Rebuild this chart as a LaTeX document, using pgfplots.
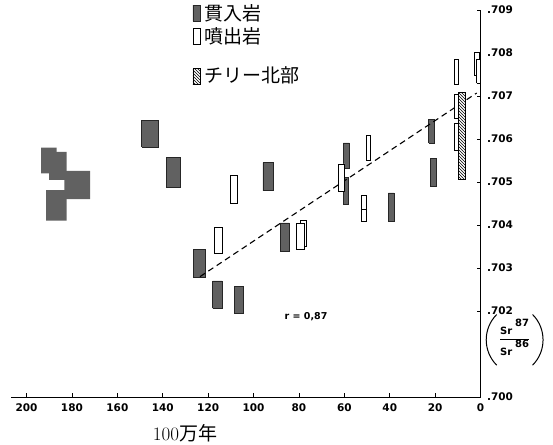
\documentclass[border=0pt]{standalone}
\usepackage{pgfplots}
\pgfplotsset{compat=1.18}
\usetikzlibrary{patterns}
\usepackage{fontspec}
\newfontfamily\tickfont{DejaVu Sans}
\newfontfamily\jp{Noto Sans CJK JP}

% range bar: xfrom xto yfrom yto style
\newcommand{\rng}[5]{\addplot[#5] coordinates {(#1,#3) (#2,#3) (#2,#4) (#1,#4) (#1,#3)};}

\tikzset{
  dark/.style={fill=black!62, draw=black!85, line width=0.5pt},
  blob/.style={fill=black!62, draw=none},
  open/.style={fill=white, draw=black, line width=0.9pt},
  hatch/.style={fill=white, draw=black, line width=0.8pt,
                postaction={pattern=north west lines}},
}

\begin{document}
\begin{tikzpicture}
\begin{axis}[
    scale only axis,
    width=469.9pt, height=387pt,
    x dir=reverse,
    xmin=0, xmax=207,
    ymin=0.700, ymax=0.709,
    axis x line=bottom, axis y line=right,
    axis line style={-, line width=0.9pt},
    tick align=inside, major tick length=4pt,
    tick style={line width=0.8pt, black},
    xtick={0,20,40,60,80,100,120,140,160,180,200},
    xticklabels={0,20,40,60,80,100,120,140,160,180,200},
    ytick={0.700,0.702,0.703,0.704,0.705,0.706,0.707,0.708,0.709},
    yticklabels={.700,.702,.703,.704,.705,.706,.707,.708,.709},
    ticklabel style={font=\tickfont\bfseries\fontsize{10.5}{12}\selectfont},
    x tick label style={yshift=-3pt},
    y tick label style={xshift=3pt},
    clip=false,
]
% left cluster of intrusive ranges
\rng{193.6}{186.7}{0.70520}{0.70580}{blob}
\rng{187.4}{182.3}{0.70506}{0.70570}{blob}
\rng{190.1}{182.3}{0.70505}{0.70524}{blob}
\rng{183.3}{172.0}{0.70460}{0.70526}{blob}
\rng{191.4}{182.3}{0.70410}{0.70481}{blob}

% intrusive rocks
\rng{149.3}{141.9}{0.70582}{0.70644}{dark}
\rng{138.5}{132.4}{0.70488}{0.70557}{dark}
\rng{95.9}{91.5}{0.70480}{0.70545}{dark}
\rng{126.5}{121.4}{0.70278}{0.70343}{dark}
\rng{118.0}{114.0}{0.70206}{0.70270}{dark}
\rng{108.5}{104.5}{0.70196}{0.70258}{dark}
\rng{88.3}{84.2}{0.70340}{0.70405}{dark}
\rng{60.4}{57.8}{0.70532}{0.70591}{dark}
\rng{60.4}{58.1}{0.70449}{0.70510}{dark}
\rng{40.6}{38.1}{0.70408}{0.70475}{dark}
\rng{22.9}{20.5}{0.70591}{0.70646}{dark}
\rng{22.2}{19.6}{0.70491}{0.70555}{dark}

% regression line
\addplot[black, line width=1.1pt, dash pattern=on 6pt off 4pt] coordinates {(123.6,0.70280) (1.7,0.70707)};

% volcanic rocks
\rng{110.3}{107.0}{0.70450}{0.70516}{open}
\rng{117.4}{113.7}{0.70334}{0.70395}{open}
\rng{79.5}{76.9}{0.70350}{0.70410}{open}
\rng{81.0}{77.8}{0.70343}{0.70404}{open}
\rng{62.5}{59.8}{0.70477}{0.70542}{open}
\rng{50.4}{48.4}{0.70550}{0.70609}{open}
\rng{52.6}{50.4}{0.70437}{0.70468}{open}
\rng{52.6}{50.4}{0.70408}{0.70437}{open}
\rng{11.7}{9.8}{0.70727}{0.70785}{open}
\rng{11.7}{9.5}{0.70647}{0.70704}{open}
\rng{11.7}{9.5}{0.70574}{0.70637}{open}
\rng{2.9}{0.5}{0.70747}{0.70802}{open}
\rng{1.8}{0.2}{0.70730}{0.70784}{open}

% northern Chile
\rng{9.9}{6.8}{0.70505}{0.70709}{hatch}

% legend swatches
\rng{126.7}{123.6}{0.708744}{0.709116}{dark}
\rng{126.7}{123.6}{0.708209}{0.708581}{open}
\rng{126.7}{123.6}{0.707279}{0.707651}{hatch}

\node[anchor=west, font=\jp\fontsize{19}{22}\selectfont, inner sep=0pt] at (axis cs:121.8,0.70893) {貫入岩};
\node[anchor=west, font=\jp\fontsize{19}{22}\selectfont, inner sep=0pt] at (axis cs:121.8,0.70840) {噴出岩};
\node[anchor=west, font=\jp\fontsize{19}{22}\selectfont, inner sep=0pt] at (axis cs:121.8,0.70747) {チリー北部};

\node[font=\tickfont\bfseries\fontsize{9.5}{11}\selectfont] at (axis cs:76.9,0.70188) {r = 0,87};

% y axis quantity: Sr87/Sr86 in drawn parentheses
\node[font=\tickfont\bfseries\fontsize{10}{12}\selectfont, inner sep=1pt] (frac) at (axis cs:-15.0,0.70133)
  {$\displaystyle\frac{\hbox{\rule{0pt}{17pt}Sr\hspace{3pt}\raisebox{1.5ex}{87}}}{\hbox{\rule[-6pt]{0pt}{12pt}Sr\hspace{3pt}\raisebox{1.5ex}{86}}}$};
\draw[line width=1pt] ([xshift=-1pt,yshift=2pt]frac.north west) to[bend right=45] ([xshift=-1pt,yshift=-2pt]frac.south west);
\draw[line width=1pt] ([xshift=1pt,yshift=2pt]frac.north east) to[bend left=45] ([xshift=1pt,yshift=-2pt]frac.south east);

\node[font=\fontsize{19}{22}\selectfont, inner sep=0pt] at (axis cs:130.2,0.69916) {100{\jp 万年}};

\coordinate (bbA) at (axis cs:211.7,0.709233);
\coordinate (bbB) at (axis cs:-31.9,0.698907);
\end{axis}
\pgfresetboundingbox
\path (bbA) rectangle (bbB);
\end{tikzpicture}
\end{document}
